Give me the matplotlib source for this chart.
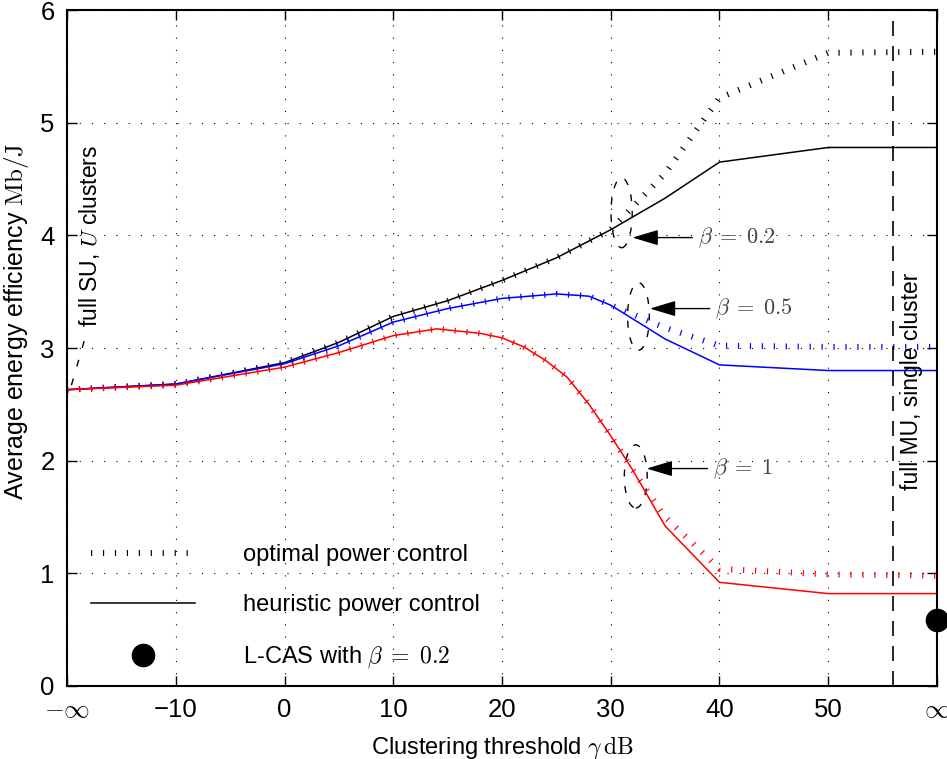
import matplotlib
matplotlib.use('Agg')
import matplotlib.pyplot as plt
from matplotlib.lines import Line2D
from matplotlib.patches import Ellipse

plt.rcParams['font.family'] = ['Liberation Sans', 'DejaVu Sans']
plt.rcParams['mathtext.fontset'] = 'cm'

# clustering threshold (dB), -20 stands for -inf and 60 for +inf
x_black = [-20, -10, 0, 5, 10, 15, 20, 25, 30, 35, 40, 50, 60]
black_heur = [2.63, 2.68, 2.87, 3.05, 3.28, 3.42, 3.60, 3.80, 4.05, 4.33, 4.65, 4.78, 4.78]
black_opt = [2.63, 2.68, 2.87, 3.05, 3.28, 3.42, 3.60, 3.80, 4.05, 4.55, 5.22, 5.62, 5.63]

x_blue = [-20, -10, 0, 5, 10, 15, 20, 25, 28, 30, 35, 40, 50, 60]
blue_heur = [2.63, 2.68, 2.86, 3.02, 3.23, 3.35, 3.44, 3.48, 3.46, 3.38, 3.08, 2.85, 2.80, 2.80]
blue_opt = [2.63, 2.68, 2.86, 3.02, 3.23, 3.35, 3.44, 3.48, 3.46, 3.38, 3.18, 3.02, 3.01, 3.01]

x_red = [-20, -10, 0, 5, 10, 14, 18, 20, 22, 24, 26, 28, 30, 32, 35, 40, 50, 60]
red_heur = [2.63, 2.67, 2.83, 2.96, 3.11, 3.17, 3.13, 3.09, 3.01, 2.89, 2.74, 2.50, 2.22, 1.92, 1.42, 0.92, 0.82, 0.82]
red_opt = [2.63, 2.67, 2.83, 2.96, 3.11, 3.17, 3.13, 3.09, 3.01, 2.89, 2.74, 2.50, 2.22, 1.92, 1.50, 1.04, 0.99, 0.98]

lcas_x = [60]
lcas_y = [0.59]

xticks = [-20, -10, 0, 10, 20, 30, 40, 50, 60]
xticklabels = ['$-\\infty$', '\u221210', '0', '10', '20', '30', '40', '50', '$\\infty$']
yticks = [0, 1, 2, 3, 4, 5, 6]

fig = plt.figure(figsize=(9.47, 7.59), dpi=100)
ax = fig.add_axes([0.0708, 0.0962, 0.9186, 0.8906])

# optimal curves: short marks across the curve, like a thick dotted line
opt_style = dict(lw=4.3, dashes=(0.2, 1.8), dash_capstyle='butt', solid_capstyle='butt')

for xs, h, o, c in [(x_black, black_heur, black_opt, 'k'),
                    (x_blue, blue_heur, blue_opt, '#0000ff'),
                    (x_red, red_heur, red_opt, '#ff0000')]:
    ax.plot(xs, h, color=c, lw=1.1)
    ax.plot(xs, o, color=c, **opt_style)

ax.plot(lcas_x, lcas_y, 'o', color='k', ms=16, clip_on=False, zorder=5)

ax.axvline(56, color='k', lw=1.2, dashes=(9, 6))

# ellipses + arrows marking beta values
for (cx, cy, w, hgt), head, tail, lab in [
        ((31.0, 4.20, 1.95, 0.62), (32.0, 3.98), (37.5, 3.98), '$\\beta\\;=\\;0.2$'),
        ((32.55, 3.28, 2.0, 0.60), (33.6, 3.35), (39.1, 3.35), '$\\beta\\;=\\;0.5$'),
        ((32.3, 1.86, 2.1, 0.56), (33.3, 1.93), (38.9, 1.93), '$\\beta\\;=\\;1$')]:
    ax.add_patch(Ellipse((cx, cy), w, hgt, fill=False, ec='k', lw=1.0, ls=(0, (5, 7))))
    ax.annotate('', xy=head, xytext=tail,
                arrowprops=dict(arrowstyle='-|>,head_length=1.0,head_width=0.3',
                                color='k', lw=1.0, mutation_scale=16,
                                shrinkA=0, shrinkB=0))
    ax.text(tail[0] + 0.5, tail[1], lab, fontsize=16, color='#444444',
            ha='left', va='center')

ax.plot([-19.6, -18.4], [2.67, 3.07], color='k', lw=1.0, dashes=(5, 9))
ax.text(-17.9, 3.19, 'full SU, $U$ clusters', rotation=90, fontsize=16.5,
        ha='center', va='bottom')
ax.text(57.7, 2.70, 'full MU, single cluster', rotation=90, fontsize=16.5,
        ha='center', va='center')

handles = [Line2D([], [], color='k', **opt_style),
           Line2D([], [], color='k', lw=1.1),
           Line2D([], [], color='k', marker='o', ls='none', ms=16)]
labels = ['optimal power control', 'heuristic power control', 'L-CAS with $\\beta\\;=\\;0.2$']
ax.legend(handles, labels, loc='lower left', bbox_to_anchor=(0.028, 0.023),
          frameon=False, fontsize=17, handlelength=4.4, handletextpad=2.0,
          labelspacing=1.2, borderpad=0, borderaxespad=0)

ax.set_xlim(-20, 60)
ax.set_ylim(0, 6)
ax.set_xticks(xticks)
ax.set_xticklabels(xticklabels)
ax.set_yticks(yticks)
ax.tick_params(direction='in', length=7, width=1, top=True, right=True,
               labelsize=18.5, pad=9)
ax.grid(True, color='k', lw=0.8, ls=(0, (1, 10)))
for s in ax.spines.values():
    s.set_linewidth(1.5)

ax.set_xlabel('Clustering threshold $\\gamma\\,\\mathrm{dB}$', fontsize=17, labelpad=8)
ax.set_ylabel('Average energy efficiency $\\mathrm{Mb/J}$', fontsize=18)
ax.yaxis.set_label_coords(-0.041, 0.54)

fig.savefig('out.png', dpi=100)
